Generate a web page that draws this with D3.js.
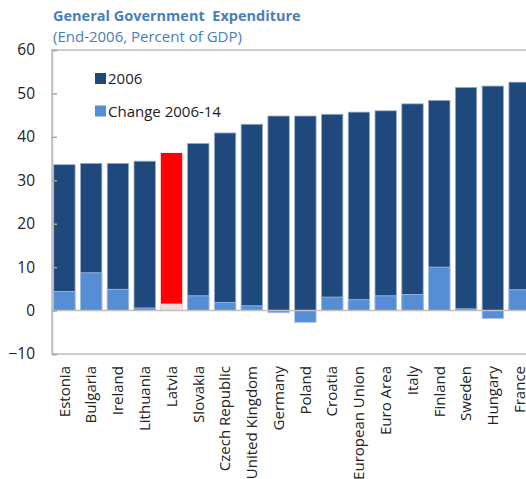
<!DOCTYPE html>
<html><head><meta charset="utf-8">
<script src="https://cdn.jsdelivr.net/npm/d3@7"></script>
<style>body{margin:0;background:#fff}svg{display:block}</style>
</head><body>
<svg id="c" width="526" height="479"></svg>
<script>
const categories = ["Estonia","Bulgaria","Ireland","Lithuania","Latvia","Slovakia","Czech Republic","United Kingdom","Germany","Poland","Croatia","European Union","Euro Area","Italy","Finland","Sweden","Hungary","France"];
const values2006 = [33.6,33.9,33.9,34.4,36.3,38.5,40.9,42.9,44.8,44.8,45.2,45.7,46.0,47.6,48.4,51.4,51.7,52.6];
const change0614 = [4.4,8.7,4.9,0.6,1.6,3.4,1.9,1.1,-0.5,-2.7,3.1,2.5,3.4,3.7,10.0,0.4,-1.8,4.8];
const yTicks = [-10,0,10,20,30,40,50,60];
const highlight = "Latvia";
const seriesNames = ["2006","Change 2006-14"];

(function(){
const svg = d3.select("#c");
const font = "'Open Sans', 'Noto Sans', sans-serif";
const pLeft = 52, pTop = 50, pBottom = 354;
const x = d3.scaleBand().domain(categories).range([51, 533]).paddingInner(0.2).paddingOuter(0.1);
const y = d3.scaleLinear().domain([-10, 60]).range([pBottom, pTop]);
const dark = "#1F497D", light = "#558ED5", red = "#FF0000", pink = "#F2DCDB", gridc = "#BFBFBF";
const fs = 15;

svg.append("text").attr("x", 53).attr("y", 21).attr("font-family", font).attr("font-weight", "bold")
  .attr("font-size", 14.5).attr("fill", "#4A7EBB").attr("xml:space","preserve").text("General Government  Expenditure");
svg.append("text").attr("x", 53).attr("y", 42).attr("font-family", font)
  .attr("font-size", 15).attr("fill", "#4A7EBB").text("(End-2006, Percent of GDP)");

svg.append("rect").attr("x", pLeft).attr("y", pTop).attr("width", 540 - pLeft).attr("height", pBottom - pTop)
  .attr("fill", "none").attr("stroke", gridc).attr("stroke-width", 1.5);

const data = categories.map((c, i) => ({c, v: values2006[i], d: change0614[i]}));
svg.append("g").selectAll("rect").data(data).join("rect")
  .attr("x", d => x(d.c)).attr("width", x.bandwidth())
  .attr("y", d => y(d.v)).attr("height", d => y(0) - y(d.v))
  .attr("fill", d => d.c === highlight ? red : dark)
  .attr("stroke", d => d.c === highlight ? "none" : "#9DB0CC").attr("stroke-width", 0.8);
svg.append("g").selectAll("rect").data(data).join("rect")
  .attr("x", d => x(d.c)).attr("width", x.bandwidth())
  .attr("y", d => y(Math.max(0, d.d))).attr("height", d => Math.abs(y(0) - y(d.d)))
  .attr("fill", d => d.c === highlight ? pink : light)
  .attr("stroke", d => d.c === highlight ? "none" : "#A9C1E3").attr("stroke-width", 0.8);

svg.append("line").attr("x1", pLeft).attr("x2", 540).attr("y1", y(0)).attr("y2", y(0))
  .attr("stroke", gridc).attr("stroke-width", 1.5);

const ya = svg.append("g").attr("transform", `translate(${pLeft},0)`)
  .call(d3.axisLeft(y).tickValues(yTicks).tickSize(-5).tickPadding(17).tickFormat(d3.format("d")));
ya.select(".domain").attr("stroke", gridc).attr("stroke-width", 1.5);
ya.selectAll(".tick line").attr("stroke", "#A6A6A6").attr("stroke-width", 1.5);
ya.selectAll("text").attr("font-family", font).attr("font-size", 15.5).attr("fill", "#222");

const xa = svg.append("g").attr("transform", `translate(0,${pBottom})`)
  .call(d3.axisBottom(x).tickSize(0));
xa.select(".domain").remove();
xa.selectAll(".tick text").attr("font-family", font).attr("font-size", fs).attr("fill", "#222")
  .attr("transform", "rotate(-90)").attr("text-anchor", "end").attr("x", -12).attr("y", 0).attr("dy", "0.35em");

const lg = svg.append("g");
[dark, light].forEach((col, i) => {
  lg.append("rect").attr("x", 95).attr("y", 73 + i * 32.5).attr("width", 11).attr("height", 11).attr("fill", col);
  lg.append("text").attr("x", 108).attr("y", 84 + i * 32.5).attr("font-family", font).attr("font-size", 15)
    .attr("fill", "#222").text(seriesNames[i]);
});
})();
</script>
</body></html>
